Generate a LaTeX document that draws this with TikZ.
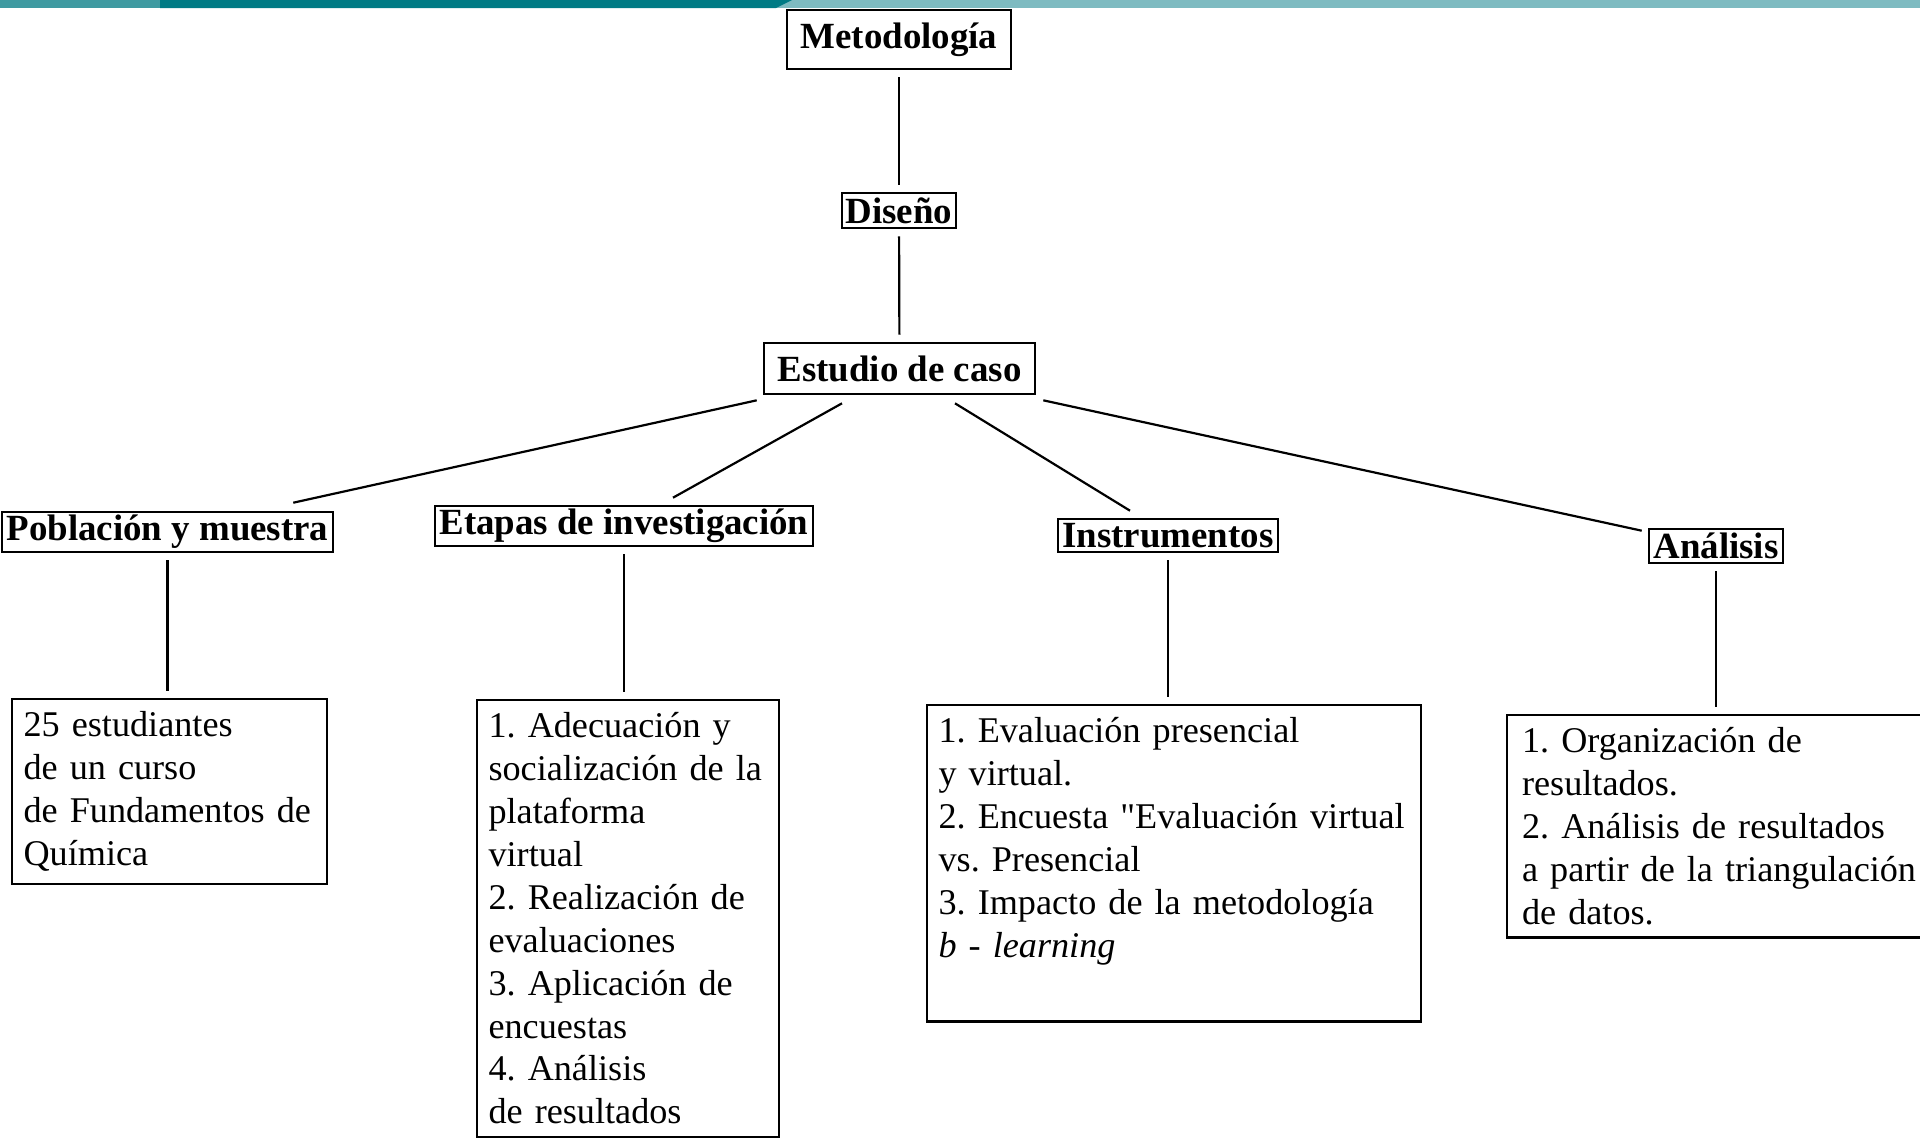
\documentclass[tikz,border=0pt]{standalone}
\usepackage{fontspec}
\setmainfont{Liberation Serif}
\usepackage{xcolor}
\usetikzlibrary{calc}

\definecolor{tealdark}{HTML}{007B85}
\definecolor{tealmid}{HTML}{3F9AA1}
\definecolor{teallight}{HTML}{7EBBC1}

\begin{document}
\begin{tikzpicture}[x=0.02cm,y=-0.02cm,line width=1.25pt,
		head node/.style={draw,line width=1.5pt,inner sep=0pt,font=\bfseries\fontsize{21}{24}\selectfont},
		list node/.style={draw,line width=1.3pt,anchor=north west,align=left,inner xsep=6.5pt,inner ysep=7.2pt,
		  font={\fontsize{20.6}{24.4}\selectfont\frenchspacing\hyphenpenalty=10000\relax}},
		link/.style={shorten <=4pt,shorten >=4pt}]
			\clip (0,0) rectangle (1920,1137);
			% Top bar
			  \fill[teallight] (0,0) rectangle (1920,8);
			  \fill[tealdark] (160,0) -- (792,0) -- (776,8) -- (160,8) -- cycle;
			  \fill[tealmid] (0,0) rectangle (160,8);

			% Nodes
			  \node[head node,minimum width=4.48cm,minimum height=1.18cm] (meto) at (899,39.5) {Metodología};
			  \node[head node,minimum width=2.28cm,minimum height=0.70cm] (diseno) at (899,210.5) {Diseño};
			  \node[head node,minimum width=5.42cm,minimum height=1.02cm] (estudio) at (899.5,368.5) {Estudio de caso};
			  \node[head node,minimum width=6.62cm,minimum height=0.80cm] (pobl) at (167.5,532) {Población y muestra};
			  \node[head node,minimum width=7.56cm,minimum height=0.80cm] (etapas) at (624,526) {Etapas de investigación};
			  \node[head node,minimum width=4.40cm,minimum height=0.66cm] (instr) at (1168,535.5) {Instrumentos};
			  \node[head node,minimum width=2.68cm,minimum height=0.68cm] (anal) at (1716,546) {Análisis};

			  \node[list node,text width=166.3pt] (lpobl) at (11,698)
			    {25 estudiantes\\ de un curso\\ \mbox{de Fundamentos de}\\ Química};
			  \node[list node,text width=158.9pt] (letapas) at (476,699)
			    {1. Adecuación y\\ \mbox{socialización de la}\\ plataforma\\ virtual\\ 2. Realización de\\ evaluaciones\\ 3. Aplicación de\\ encuestas\\ 4. Análisis\\ de resultados};
			  \node[list node,text width=268.1pt] (linstr) at (926,704)
			    {1. Evaluación presencial\\ y virtual.\\ \mbox{2. Encuesta \textquotedbl Evaluación virtual}\\ vs. Presencial\\ \mbox{3. Impacto de la metodología}\\ \textit{b - learning}\\[5pt] \mbox{}};
			  \node[list node,inner xsep=8.5pt,text width=227.7pt] (lanal) at (1506,714)
			    {1. Organización de\\ resultados.\\ 2. Análisis de resultados\\ \mbox{a partir de la triangulación}\\ de datos.};

			% Edges
			 \draw[link] (meto) -- (diseno);
			 \draw[link] (diseno) -- (estudio);
			 \draw ($(estudio.south west)+(-6,5)$) -- ($(pobl.north east)+(-41,-8)$);
			 \draw ($(estudio.south)+(-57.5,8)$) -- ($(etapas.north)+(49,-7)$);
			 \draw ($(estudio.south)+(55.5,8)$) -- ($(instr.north)+(-38,-7)$);
			 \draw ($(estudio.south east)+(7,5)$) -- ($(anal.north west)+(-6,3)$);
			 \draw[link] (pobl.south) -- (pobl.south |- lpobl.north);
			 \draw[link] (etapas.south) -- (etapas.south |- letapas.north);
			 \draw[link] (instr.south) -- (instr.south |- linstr.north);
			 \draw[link] (anal.south) -- (anal.south |- lanal.north);
\end{tikzpicture}
\end{document}
